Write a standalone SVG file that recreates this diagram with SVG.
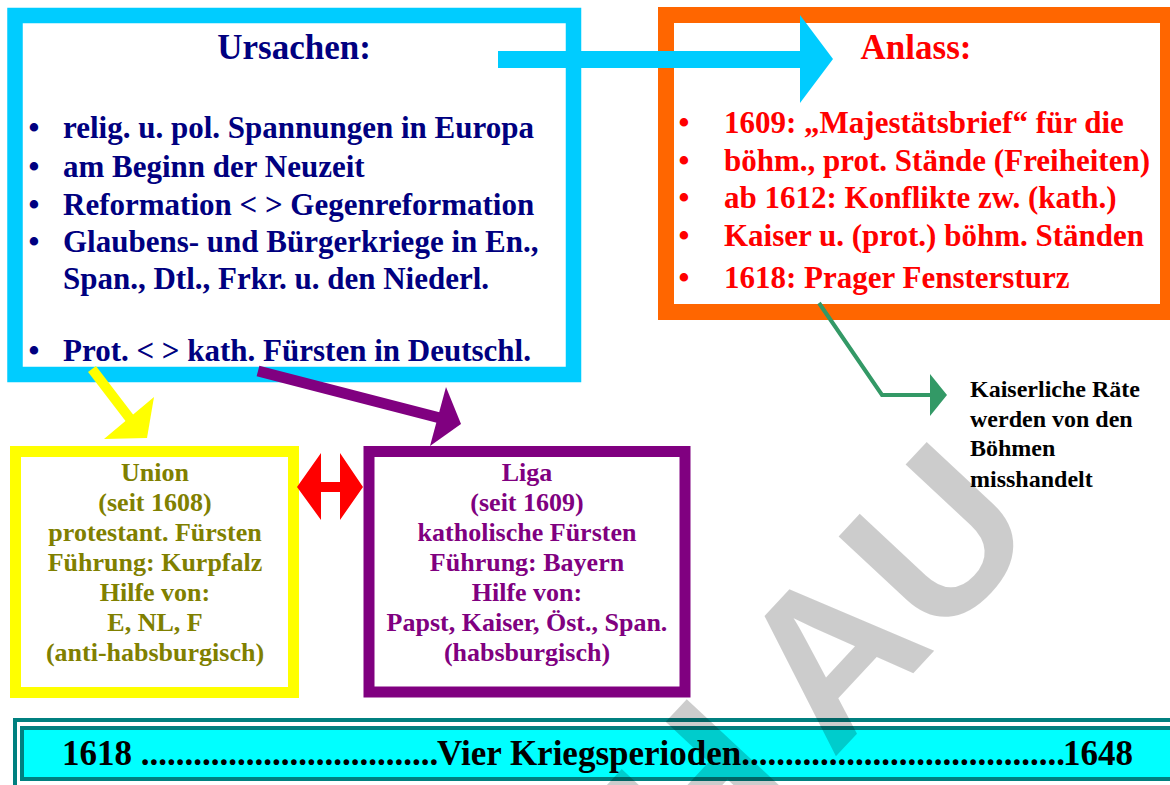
<svg xmlns="http://www.w3.org/2000/svg" width="1170" height="785" viewBox="0 0 1170 785">
  <style>
    .serif { font-family: "Liberation Serif", "Times New Roman", serif; font-weight: bold; }
    .navy { fill: #000080; font-size: 31px; }
    .red { fill: #FF0000; font-size: 31px; }
    .head { font-size: 35px; text-anchor: middle; }
    .olive { fill: #808000; font-size: 26px; text-anchor: middle; }
    .purple { fill: #800080; font-size: 26px; text-anchor: middle; }
    .note { fill: #000000; font-size: 24px; }
    .bar { fill: #000000; font-size: 35px; }
    .mark { font-family: "Liberation Sans", Arial, sans-serif; font-weight: bold; font-size: 215px; fill: #000000; fill-opacity: 0.2; }
  </style>

  <rect width="1170" height="785" fill="#FFFFFF"/>

  <!-- Causes -->
  <g id="ursachen">
    <rect x="15" y="15.5" width="558.5" height="359" fill="#FFFFFF" stroke="#00CCFF" stroke-width="15.5"/>
    <text class="serif navy head" x="294" y="59">Ursachen:</text>
    <g class="serif navy">
      <text x="34" y="138" text-anchor="middle">•</text>
      <text x="63" y="138">relig. u. pol. Spannungen in Europa</text>
      <text x="34" y="177" text-anchor="middle">•</text>
      <text x="63" y="177">am Beginn der Neuzeit</text>
      <text x="34" y="215" text-anchor="middle">•</text>
      <text x="63" y="215">Reformation &lt; &gt; Gegenreformation</text>
      <text x="34" y="252" text-anchor="middle">•</text>
      <text x="63" y="252">Glaubens- und Bürgerkriege in En.,</text>
      <text x="63" y="289">Span., Dtl., Frkr. u. den Niederl.</text>
      <text x="34" y="361" text-anchor="middle">•</text>
      <text x="63" y="361">Prot. &lt; &gt; kath. Fürsten in Deutschl.</text>
    </g>
  </g>

  <!-- Occasion -->
  <g id="anlass">
    <rect x="666" y="15" width="502" height="297" fill="#FFFFFF" stroke="#FF6600" stroke-width="16"/>
    <text class="serif red head" x="916" y="59">Anlass:</text>
    <g class="serif red">
      <text x="684" y="133" text-anchor="middle">•</text>
      <text x="724" y="133">1609: „Majestätsbrief“ für die</text>
      <text x="684" y="171" text-anchor="middle">•</text>
      <text x="724" y="171">böhm., prot. Stände (Freiheiten)</text>
      <text x="684" y="208" text-anchor="middle">•</text>
      <text x="724" y="208">ab 1612: Konflikte zw. (kath.)</text>
      <text x="684" y="246" text-anchor="middle">•</text>
      <text x="724" y="246">Kaiser u. (prot.) böhm. Ständen</text>
      <text x="684" y="288" text-anchor="middle">•</text>
      <text x="724" y="288">1618: Prager Fenstersturz</text>
    </g>
  </g>

  <!-- Protestant Union -->
  <g id="union">
    <rect x="15.5" y="451.5" width="278" height="241" fill="#FFFFFF" stroke="#FFFF00" stroke-width="11"/>
    <g class="serif olive">
      <text x="155" y="481">Union</text>
      <text x="155" y="511">(seit 1608)</text>
      <text x="155" y="541">protestant. Fürsten</text>
      <text x="155" y="571">Führung: Kurpfalz</text>
      <text x="155" y="601">Hilfe von:</text>
      <text x="155" y="631">E, NL, F</text>
      <text x="155" y="661">(anti-habsburgisch)</text>
    </g>
  </g>

  <!-- Catholic League -->
  <g id="liga">
    <rect x="369" y="451.5" width="316" height="240.5" fill="#FFFFFF" stroke="#800080" stroke-width="11"/>
    <g class="serif purple">
      <text x="527" y="481">Liga</text>
      <text x="527" y="511">(seit 1609)</text>
      <text x="527" y="541">katholische Fürsten</text>
      <text x="527" y="571">Führung: Bayern</text>
      <text x="527" y="601">Hilfe von:</text>
      <text x="527" y="631">Papst, Kaiser, Öst., Span.</text>
      <text x="527" y="661">(habsburgisch)</text>
    </g>
  </g>

  <!-- Defenestration note -->
  <g id="note">
    <g class="serif note">
      <text x="970" y="397">Kaiserliche Räte</text>
      <text x="970" y="427">werden von den</text>
      <text x="970" y="456">Böhmen</text>
      <text x="970" y="487">misshandelt</text>
    </g>
  </g>

  <!-- Timeline banner -->
  <g id="banner">
    <rect x="13" y="718" width="1160" height="4" fill="#008080"/>
    <rect x="13" y="718" width="4" height="70" fill="#008080"/>
    <rect x="22" y="728" width="1160" height="51" fill="#00FFFF" stroke="#008080" stroke-width="4"/>
    <text class="serif bar" x="62" y="765">1618 ..................................</text>
    <text class="serif bar" x="437" y="765">Vier Kriegsperioden.....................................</text>
    <text class="serif bar" x="1063" y="765">1648</text>
  </g>

  <!-- Connectors -->
  <g id="connectors">
    <!-- causes to occasion -->
    <rect x="498" y="51" width="304" height="17" fill="#00CCFF"/>
    <polygon points="800,15 833,59 800,103" fill="#00CCFF"/>
    <!-- causes to union -->
    <line x1="92" y1="369" x2="131" y2="420" stroke="#FFFF00" stroke-width="10"/>
    <polygon points="154,397 104,439 147,438" fill="#FFFF00"/>
    <!-- causes to liga -->
    <line x1="258" y1="371" x2="440" y2="418" stroke="#800080" stroke-width="11"/>
    <polygon points="446,387 461,424 430,446" fill="#800080"/>
    <!-- union / liga -->
    <polygon points="297,487 321,453 321,482 340,482 340,453 363,487 340,520 340,492 321,492 321,520" fill="#FF0000"/>
    <!-- occasion to note -->
    <polyline points="819,303 882,395 932,395" fill="none" stroke="#339966" stroke-width="4"/>
    <polygon points="930,374 947,395 930,416" fill="#339966"/>
  </g>

  <!-- watermark -->
  <text class="mark" x="699" y="903" transform="rotate(-47 699 903)">H<tspan dx="40">AU</tspan></text>
</svg>
